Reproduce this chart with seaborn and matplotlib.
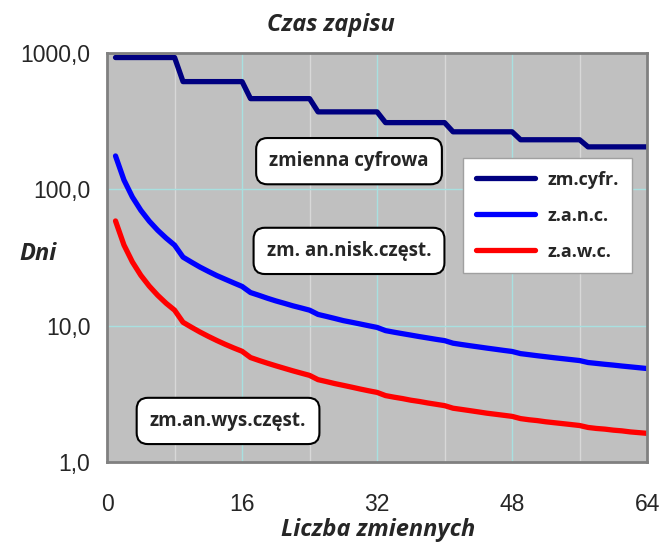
import matplotlib
matplotlib.use("Agg")
import matplotlib.pyplot as plt
import seaborn as sns
import pandas as pd

# liczba zmiennych
n_vars = list(range(1, 65))

# czas zapisu [dni]
zm_cyfr = [
    920, 920, 920, 920, 920, 920, 920, 920,
    613, 613, 613, 613, 613, 613, 613, 613,
    460, 460, 460, 460, 460, 460, 460, 460,
    368, 368, 368, 368, 368, 368, 368, 368,
    307, 307, 307, 307, 307, 307, 307, 307,
    263, 263, 263, 263, 263, 263, 263, 263,
    230, 230, 230, 230, 230, 230, 230, 230,
    204, 204, 204, 204, 204, 204, 204, 204,
]
z_a_n_c = [
    175, 116.7, 87.5, 70.0, 58.3, 50.0, 43.8, 38.9,
    31.8, 29.2, 26.9, 25.0, 23.3, 21.9, 20.6, 19.4,
    17.5, 16.7, 15.9, 15.2, 14.6, 14.0, 13.5, 13.0,
    12.1, 11.7, 11.3, 10.9, 10.6, 10.3, 10.0, 9.72,
    9.21, 8.97, 8.75, 8.54, 8.33, 8.14, 7.95, 7.78,
    7.45, 7.29, 7.14, 7.00, 6.86, 6.73, 6.60, 6.48,
    6.25, 6.14, 6.03, 5.93, 5.83, 5.74, 5.65, 5.56,
    5.38, 5.30, 5.22, 5.15, 5.07, 5.00, 4.93, 4.86,
]
z_a_w_c = [
    58.5, 39.0, 29.3, 23.4, 19.5, 16.7, 14.6, 13.0,
    10.6, 9.75, 9.00, 8.36, 7.80, 7.31, 6.88, 6.50,
    5.85, 5.57, 5.32, 5.09, 4.88, 4.68, 4.50, 4.33,
    4.03, 3.90, 3.77, 3.66, 3.55, 3.44, 3.34, 3.25,
    3.08, 3.00, 2.93, 2.85, 2.79, 2.72, 2.66, 2.60,
    2.49, 2.44, 2.39, 2.34, 2.29, 2.25, 2.21, 2.17,
    2.09, 2.05, 2.02, 1.98, 1.95, 1.92, 1.89, 1.86,
    1.80, 1.77, 1.75, 1.72, 1.70, 1.67, 1.65, 1.63,
]

series_names = ["zm.cyfr.", "z.a.n.c.", "z.a.w.c."]
series_colors = ["#000080", "#0000FF", "#FF0000"]

x_ticks = [0, 16, 32, 48, 64]
x_minor = [8, 24, 40, 56]
y_ticks = [1, 10, 100, 1000]
y_tick_labels = ["1,0", "10,0", "100,0", "1000,0"]

sns.set_theme(style="white")
plt.rcParams["font.family"] = ["Liberation Sans", "DejaVu Sans"]
label_font = ["Open Sans", "DejaVu Sans"]

fig = plt.figure(figsize=(6.61, 5.42), dpi=100)
ax = fig.add_axes([0.162, 0.147, 0.817, 0.756])
ax.set_facecolor("#C0C0C0")

df = pd.DataFrame({"n": n_vars * 3,
                   "dni": zm_cyfr + z_a_n_c + z_a_w_c,
                   "seria": [s for s in series_names for _ in n_vars]})

for name, col in zip(series_names, series_colors):
    sns.lineplot(data=df[df["seria"] == name], x="n", y="dni", color=col,
                 linewidth=3.8, label=name, ax=ax, solid_capstyle="round")

ax.set_yscale("log")
ax.set_ylim(1, 1000)
ax.set_xlim(0, 64)
ax.set_yticks(y_ticks)
ax.set_yticklabels(y_tick_labels)
ax.minorticks_off()
ax.set_xticks(x_ticks)
ax.set_xticks(x_minor, minor=True)
ax.tick_params(which="minor", length=0)
ax.tick_params(which="major", direction="out", length=6, width=1, color="#808080",
               labelsize=16.5, pad=6)
ax.tick_params(axis="x", pad=16)

ax.grid(True, which="major", color="#A8E0E0", linewidth=1)
ax.grid(True, which="minor", axis="x", color="#D8D8D8", linewidth=1)
for s in ax.spines.values():
    s.set_color("#808080")
    s.set_linewidth(2)

ax.set_xlabel("")
ax.set_ylabel("")
fig.text(0.50, 0.953, "Czas zapisu", ha="center", va="center", fontsize=17,
         fontweight="bold", fontstyle="italic", family=label_font)
fig.text(0.057, 0.531, "Dni", ha="center", va="center", fontsize=17,
         fontweight="bold", fontstyle="italic", family=label_font)
fig.text(0.572, 0.022, "Liczba zmiennych", ha="center", va="center", fontsize=17,
         fontweight="bold", fontstyle="italic", family=label_font)

box = dict(boxstyle="round,pad=0.7,rounding_size=0.6", fc="white", ec="black", lw=1.5)
ax.text(0.448, 0.735, "zmienna cyfrowa", transform=ax.transAxes, ha="center", va="center",
        fontsize=13.5, fontweight="bold", family=label_font, bbox=box)
ax.text(0.448, 0.516, "zm. an.nisk.częst.", transform=ax.transAxes, ha="center", va="center",
        fontsize=13.5, fontweight="bold", family=label_font, bbox=box)
ax.text(0.224, 0.101, "zm.an.wys.częst.", transform=ax.transAxes, ha="center", va="center",
        fontsize=13.5, fontweight="bold", family=label_font, bbox=box)

leg = ax.legend(loc="upper left", bbox_to_anchor=(0.659, 0.743), borderaxespad=0,
                frameon=True, fancybox=False, framealpha=1, edgecolor="#A0A0A0",
                handlelength=3.3, labelspacing=1.0, borderpad=0.7, handletextpad=0.7,
                prop={"family": label_font, "weight": "bold", "size": 13})
leg.get_frame().set_linewidth(1)

fig.savefig("out.png", dpi=100)
